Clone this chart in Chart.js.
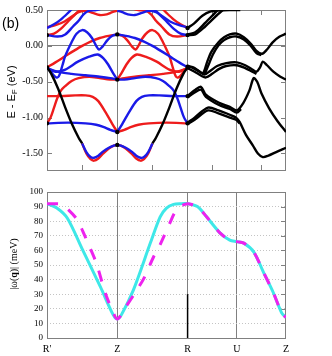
<!DOCTYPE html>
<html>
<head>
<meta charset="utf-8">
<script src="https://cdn.jsdelivr.net/npm/chart.js@4.4.1/dist/chart.umd.min.js"></script>
<style>
  html, body { margin: 0; padding: 0; background: #fff; }
  #wrap { position: relative; width: 332px; height: 356px; overflow: hidden; }
  #bands { position: absolute; left: 0; top: 0; }
  #disp { position: absolute; left: 0; top: 182px; }
</style>
</head>
<body>
<div id="wrap">
  <canvas id="bands" width="332" height="180"></canvas>
  <canvas id="disp" width="332" height="174"></canvas>
</div>
<script>
// path coordinate k: R'=0, Z=1, R=2, U=2.7, Z=3.4
const kTicks = [0, 1, 2, 2.7, 3.4];
const kLabels = ["R'", 'Z', 'R', 'U', 'Z'];
const kMinor = [0.5, 1.5, 2.35, 3.05];
const eTicks = [-1.5, -1.0, -0.5, 0, 0.5];
const wTicks = [0, 10, 20, 30, 40, 50, 60, 70, 80, 90, 100];

// spin up bands (red), [k, E - EF]
const redBands = [
  [[0,0.26],[0.12,0.29],[0.25,0.34],[0.37,0.42],[0.45,0.47],[0.55,0.49],[0.65,0.46],[0.75,0.43],[0.85,0.44],[0.93,0.47],[1,0.49]],
  [[0,0.15],[0.1,0.17],[0.2,0.24],[0.3,0.34],[0.4,0.44],[0.47,0.5],[0.52,0.53]],
  [[0,-0.30],[0.12,-0.23],[0.25,-0.15],[0.38,-0.07],[0.5,0.0],[0.62,0.06],[0.75,0.11],[0.88,0.14],[1,0.16]],
  [[0,-1.08],[0.05,-1.0],[0.1,-0.86],[0.15,-0.72],[0.2,-0.62],[0.26,-0.56],[0.35,-0.49],[0.45,-0.45],[0.6,-0.43],[0.75,-0.45],[0.9,-0.47],[1,-0.47]],
  [[0,-0.70],[0.2,-0.70],[0.4,-0.69],[0.55,-0.69],[0.65,-0.71],[0.73,-0.77],[0.83,-0.92],[0.93,-1.09],[1,-1.2]],
  [[0.5,-1.36],[0.56,-1.5],[0.62,-1.58],[0.67,-1.6],[0.73,-1.57],[0.8,-1.5],[0.88,-1.43],[0.95,-1.39],[1,-1.38]],
  [[1.64,0.52],[1.7,0.46],[1.8,0.37],[1.9,0.3],[2,0.25]],
  [[1.22,0.52],[1.3,0.5],[1.4,0.49],[1.48,0.44],[1.55,0.35],[1.63,0.27],[1.74,0.16],[1.85,0.13],[2,0.15]],
  [[1,0.16],[1.07,0.14],[1.14,0.08],[1.21,-0.01],[1.26,-0.05],[1.3,0.0],[1.36,0.11],[1.43,0.19],[1.5,0.22],[1.58,0.17],[1.65,0.05],[1.74,-0.14],[1.78,-0.27],[1.83,-0.42],[1.87,-0.44],[1.93,-0.38],[2,-0.30]],
  [[1,-0.47],[1.06,-0.38],[1.13,-0.26],[1.2,-0.17],[1.28,-0.12],[1.4,-0.15],[1.56,-0.22],[1.74,-0.33],[1.88,-0.36],[2,-0.31]],
  [[1,-0.47],[1.1,-0.45],[1.25,-0.43],[1.45,-0.41],[1.65,-0.39],[1.85,-0.36],[2,-0.31]],
  [[1,-1.2],[1.1,-1.17],[1.2,-1.13],[1.3,-1.1],[1.45,-1.08],[1.7,-1.07],[2,-1.08]],
  [[1,-1.38],[1.05,-1.39],[1.12,-1.43],[1.2,-1.5],[1.27,-1.57],[1.33,-1.6],[1.38,-1.58],[1.44,-1.5],[1.5,-1.36]]
];

// spin down bands (blue)
const blueBands = [
  [[0,0.25],[0.1,0.3],[0.2,0.37],[0.3,0.46],[0.36,0.52]],
  [[0,0.15],[0.15,0.13],[0.26,0.16],[0.37,0.27],[0.45,0.35],[0.52,0.44],[0.6,0.49],[0.7,0.5],[0.78,0.52]],
  [[0,-0.30],[0.07,-0.38],[0.13,-0.44],[0.17,-0.42],[0.22,-0.27],[0.26,-0.14],[0.35,0.05],[0.42,0.17],[0.5,0.22],[0.57,0.19],[0.64,0.11],[0.7,0.0],[0.74,-0.05],[0.79,-0.01],[0.86,0.08],[0.93,0.14],[1,0.16]],
  [[0,-0.31],[0.12,-0.36],[0.26,-0.33],[0.44,-0.22],[0.6,-0.15],[0.72,-0.12],[0.8,-0.17],[0.87,-0.26],[0.94,-0.38],[1,-0.47]],
  [[0,-0.31],[0.15,-0.36],[0.35,-0.39],[0.55,-0.41],[0.75,-0.43],[0.9,-0.45],[1,-0.47]],
  [[0,-1.08],[0.3,-1.07],[0.55,-1.08],[0.7,-1.1],[0.8,-1.13],[0.9,-1.17],[1,-1.2]],
  [[0.5,-1.36],[0.56,-1.48],[0.62,-1.55],[0.67,-1.56],[0.73,-1.53],[0.8,-1.47],[0.88,-1.42],[0.95,-1.39],[1,-1.38]],
  [[1,0.49],[1.07,0.47],[1.15,0.44],[1.25,0.43],[1.35,0.46],[1.45,0.49],[1.55,0.47],[1.63,0.42],[1.75,0.34],[1.88,0.29],[2,0.26]],
  [[1.48,0.53],[1.53,0.5],[1.6,0.44],[1.7,0.34],[1.8,0.24],[1.9,0.17],[2,0.15]],
  [[1,0.16],[1.12,0.14],[1.25,0.11],[1.38,0.06],[1.5,0.0],[1.62,-0.07],[1.75,-0.15],[1.88,-0.23],[2,-0.30]],
  [[1,-0.47],[1.1,-0.47],[1.25,-0.45],[1.4,-0.43],[1.55,-0.45],[1.65,-0.49],[1.74,-0.56],[1.8,-0.62],[1.85,-0.72],[1.9,-0.86],[1.95,-1.0],[2,-1.08]],
  [[1,-1.2],[1.07,-1.09],[1.17,-0.92],[1.27,-0.77],[1.35,-0.71],[1.45,-0.69],[1.6,-0.69],[1.8,-0.70],[2,-0.70]],
  [[1,-1.38],[1.05,-1.39],[1.12,-1.42],[1.2,-1.47],[1.27,-1.53],[1.33,-1.56],[1.38,-1.55],[1.44,-1.48],[1.5,-1.36]]
];

// degenerate / non magnetic bands (black)
const blackBands = [
  [[0,-0.30],[0.05,-0.37],[0.16,-0.6],[0.26,-0.86],[0.36,-1.1],[0.45,-1.28],[0.5,-1.36]],
  [[1.5,-1.36],[1.55,-1.28],[1.64,-1.1],[1.74,-0.86],[1.84,-0.6],[1.95,-0.37],[2,-0.30]],
  [[2,0.25],[2.09,0.31],[2.21,0.42],[2.33,0.48],[2.45,0.495],[2.6,0.5],[2.75,0.5]],
  [[2,0.16],[2.11,0.19],[2.25,0.32],[2.38,0.45],[2.46,0.53]],
  [[2,0.15],[2.11,0.16],[2.25,0.27],[2.4,0.41],[2.5,0.5],[2.55,0.53]],
  [[2,-0.28],[2.08,-0.3],[2.16,-0.35],[2.22,-0.38],[2.28,-0.22],[2.34,-0.08],[2.44,0.05],[2.52,0.12],[2.6,0.16],[2.7,0.17],[2.8,0.12],[2.9,0.03],[2.98,-0.07],[3.06,-0.11],[3.13,-0.05],[3.21,0.05],[3.31,0.13],[3.4,0.17]],
  [[2.24,-0.4],[2.3,-0.26],[2.36,-0.12],[2.44,0.01],[2.52,0.08],[2.6,0.12],[2.7,0.13],[2.8,0.09],[2.9,0.0],[2.98,-0.1],[3.05,-0.13]],
  [[2,-0.28],[2.08,-0.31],[2.17,-0.36],[2.24,-0.4],[2.32,-0.35],[2.42,-0.28],[2.55,-0.24],[2.7,-0.23],[2.82,-0.27],[2.92,-0.33],[2.98,-0.36],[3.03,-0.3],[3.07,-0.22],[3.13,-0.27],[3.22,-0.36],[3.32,-0.43],[3.4,-0.47]],
  [[2,-0.31],[2.1,-0.36],[2.2,-0.42],[2.26,-0.44],[2.35,-0.39],[2.45,-0.32],[2.55,-0.28],[2.7,-0.27],[2.82,-0.31],[2.92,-0.36],[2.98,-0.39]],
  [[2,-0.70],[2.1,-0.62],[2.19,-0.57],[2.26,-0.68],[2.44,-0.79],[2.6,-0.85],[2.7,-0.9],[2.79,-0.8],[2.88,-0.62],[2.94,-0.45],[2.99,-0.5],[3.05,-0.66],[3.16,-0.87],[3.28,-1.05],[3.4,-1.2]],
  [[2,-0.72],[2.1,-0.65],[2.19,-0.61],[2.26,-0.71],[2.44,-0.82],[2.6,-0.88],[2.7,-0.93],[2.76,-0.88]],
  [[2,-1.07],[2.1,-1.0],[2.29,-0.86],[2.44,-0.9],[2.6,-0.96],[2.69,-1.0],[2.74,-1.06],[2.83,-1.24],[2.93,-1.39],[3.0,-1.5],[3.07,-1.55],[3.15,-1.53],[3.26,-1.48],[3.4,-1.42]],
  [[2,-1.09],[2.1,-1.03],[2.29,-0.9],[2.44,-0.94],[2.6,-1.0],[2.69,-1.03],[2.74,-1.08]]
];
const blackDots = [[0,0.15],[0,-0.30],[0,-1.08],[1,0.16],[1,-0.47],[1,-1.2],[1,-1.38],[2,0.25],[2,0.15],[2,-0.29],[2,-0.70],[2,-1.08]];

// |omega(q)| in meV
const omegaSolid = [[0,92],[0.14,89],[0.29,82],[0.5,61],[0.76,35],[0.94,16],[1,13],[1.06,16],[1.23,33],[1.47,65],[1.61,83],[1.7,89],[1.8,91.5],[1.9,92],[2,92],[2.14,90],[2.27,83],[2.46,72],[2.6,67],[2.7,66],[2.8,65],[2.94,59],[3.08,45],[3.22,31],[3.34,17],[3.4,14]];
const omegaDashed = [[0,92],[0.1,92],[0.2,91.5],[0.3,88],[0.43,81],[0.51,73],[0.6,63],[0.68,54],[0.73,47],[0.79,37],[0.85,28],[0.92,20],[1,13],[1.11,20.5],[1.28,33],[1.38,41],[1.52,56],[1.61,64],[1.75,79],[1.82,86],[1.9,90],[1.96,91.5],[2,92],[2.14,90],[2.27,83],[2.46,72],[2.6,67],[2.7,66],[2.8,65],[2.94,59],[3.08,45],[3.22,31],[3.34,17],[3.4,14]];
const rMarker = [[2,0],[2,30]];

const RED = '#ee1c1c', BLUE = '#1a1ae8', GRAY = '#808080';

function lineSet(pts, color, width, extra) {
  return Object.assign({
    data: pts.map(p => ({x: p[0], y: p[1]})),
    showLine: true,
    borderColor: color,
    backgroundColor: color,
    borderWidth: width,
    pointRadius: 0,
    tension: 0.3,
    clip: 0
  }, extra || {});
}

const framePlugin = {
  id: 'frame',
  beforeDatasetsDraw(chart, args, opts) {
    const {ctx, chartArea: a, scales} = chart;
    ctx.save();
    ctx.strokeStyle = GRAY;
    ctx.lineWidth = 1;
    ctx.strokeRect(a.left + 0.5, a.top + 0.5, a.right - a.left - 1, a.bottom - a.top);
    ctx.beginPath();
    (opts.xMinor || []).forEach(v => {
      const x = Math.round(scales.x.getPixelForValue(v)) + 0.5;
      ctx.moveTo(x, a.bottom); ctx.lineTo(x, a.bottom - 5);
      ctx.moveTo(x, a.top); ctx.lineTo(x, a.top + 5);
    });
    (opts.yLeft || []).forEach(v => {
      const y = Math.round(scales.y.getPixelForValue(v)) + 0.5;
      ctx.moveTo(a.left, y); ctx.lineTo(a.left + 5, y);
    });
    (opts.yRight || []).forEach(v => {
      const y = Math.round(scales.y.getPixelForValue(v)) + 0.5;
      ctx.moveTo(a.right, y); ctx.lineTo(a.right - 5, y);
    });
    ctx.stroke();
    ctx.restore();
  }
};

function drawRotated(ctx, cx, cy, parts) {
  ctx.save();
  ctx.translate(cx, cy);
  ctx.rotate(-Math.PI / 2);
  ctx.fillStyle = '#000';
  ctx.textBaseline = 'middle';
  let w = 0;
  parts.forEach(p => { ctx.font = p.font; w += ctx.measureText(p.text).width; });
  let x = -w / 2;
  parts.forEach(p => {
    ctx.font = p.font;
    ctx.fillText(p.text, x, p.dy || 0);
    x += ctx.measureText(p.text).width;
  });
  ctx.restore();
}

const bandTitles = {
  id: 'bandTitles',
  afterDraw(chart) {
    const ctx = chart.ctx;
    drawRotated(ctx, 12, 92, [
      {text: 'E - E', font: '11px "Liberation Sans"'},
      {text: 'F', font: '8px "Liberation Sans"', dy: 3},
      {text: ' (eV)', font: '11px "Liberation Sans"'}
    ]);
    ctx.save();
    ctx.font = '14px "Liberation Sans"';
    ctx.fillStyle = '#000';
    ctx.textBaseline = 'middle';
    ctx.fillText('(b)', 2, 24);
    ctx.restore();
  }
};

const dispTitles = {
  id: 'dispTitles',
  afterDraw(chart) {
    drawRotated(chart.ctx, 14, 82, [
      {text: '|\u03c9(', font: '10px "Liberation Serif"'},
      {text: 'q', font: 'bold 10px "Liberation Serif"'},
      {text: ')| (meV)', font: '10px "Liberation Serif"'}
    ]);
  }
};

const clear = 'rgba(0,0,0,0)';
const innerK = c => (c.tick && (c.tick.value === 1 || c.tick.value === 2 || c.tick.value === 2.7)) ? GRAY : clear;

// ---- band structure panel ----
const bandSets = [];
bandSets.push(lineSet(blackDots, '#000', 0, {showLine: false, pointRadius: 2.2, pointBorderWidth: 0}));
blackBands.forEach(b => bandSets.push(lineSet(b, '#000', 2.4)));
blueBands.forEach(b => bandSets.push(lineSet(b, BLUE, 2.4)));
redBands.forEach(b => bandSets.push(lineSet(b, RED, 2.4)));

new Chart(document.getElementById('bands'), {
  type: 'scatter',
  data: { datasets: bandSets },
  options: {
    responsive: false,
    animation: false,
    layout: { padding: { left: 0, right: 46, top: 6, bottom: 2 } },
    plugins: {
      legend: { display: false },
      tooltip: { enabled: false },
      frame: { xMinor: kMinor, yLeft: eTicks, yRight: eTicks }
    },
    scales: {
      x: {
        type: 'linear', min: 0, max: 3.4,
        afterBuildTicks: s => { s.ticks = kTicks.map(v => ({value: v})); },
        afterFit: s => { s.height = 0; },
        ticks: { display: false },
        grid: { drawTicks: false, color: innerK, lineWidth: 1 },
        border: { display: false }
      },
      y: {
        min: -1.73, max: 0.5,
        afterBuildTicks: s => { s.ticks = eTicks.map(v => ({value: v})); },
        afterFit: s => { s.width = 47; },
        ticks: {
          callback: v => v.toFixed(2),
          font: { family: 'Liberation Serif', size: 10 },
          color: '#000', padding: 4
        },
        grid: { drawTicks: false, color: c => (c.tick && c.tick.value === 0) ? GRAY : clear },
        border: { display: false }
      }
    }
  },
  plugins: [framePlugin, bandTitles]
});

// ---- |omega(q)| panel ----
new Chart(document.getElementById('disp'), {
  type: 'scatter',
  data: {
    datasets: [
      lineSet(omegaDashed, '#ee22ee', 3, { borderDash: [11, 12] }),
      lineSet(omegaSolid, '#3ee8e8', 3),
      lineSet(rMarker, '#000', 1.5, { tension: 0 })
    ]
  },
  options: {
    responsive: false,
    animation: false,
    layout: { padding: { left: 0, right: 46, top: 10, bottom: 0 } },
    plugins: {
      legend: { display: false },
      tooltip: { enabled: false },
      frame: { yRight: wTicks }
    },
    scales: {
      x: {
        type: 'linear', min: 0, max: 3.4,
        afterBuildTicks: s => { s.ticks = kTicks.map(v => ({value: v})); },
        afterFit: s => { s.height = 18; },
        ticks: {
          autoSkip: false, maxRotation: 0, padding: 5,
          callback: (v, i) => kLabels[i],
          font: { family: 'Liberation Serif', size: 10 }, color: '#000'
        },
        grid: { drawTicks: false, color: innerK, lineWidth: 1 },
        border: { display: false }
      },
      y: {
        min: 0, max: 100,
        afterBuildTicks: s => { s.ticks = wTicks.map(v => ({value: v})); },
        afterFit: s => { s.width = 47; },
        ticks: {
          font: { family: 'Liberation Serif', size: 9 },
          color: '#000', padding: 4
        },
        grid: { drawTicks: false, color: c => (c.tick && c.tick.value > 0 && c.tick.value < 100) ? '#c4c4c4' : clear },
        border: { display: false, dash: [1, 2] }
      }
    }
  },
  plugins: [framePlugin, dispTitles]
});
</script>
</body>
</html>
